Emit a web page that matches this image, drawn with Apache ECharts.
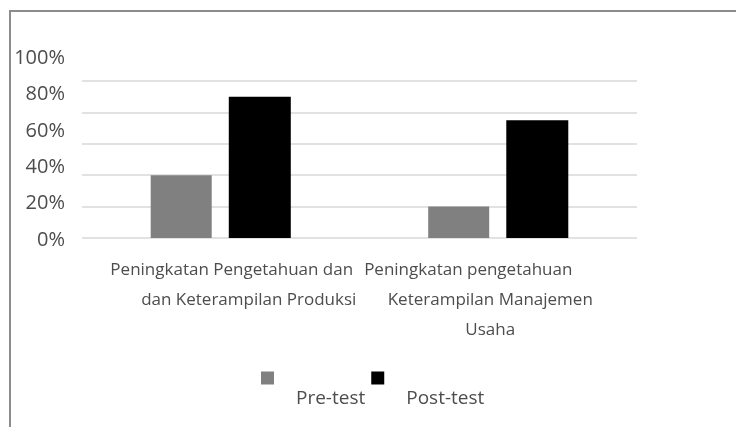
<!DOCTYPE html>
<html>
<head>
<meta charset="utf-8">
<script src="https://cdn.jsdelivr.net/npm/echarts@6/dist/echarts.min.js"></script>
<style>
  html, body { margin: 0; padding: 0; background: #fff; }
  #frame {
    position: absolute; left: 9px; top: 10px; width: 727px; height: 417px;
    border-left: 2px solid #8c8c8c; border-top: 2px solid #8c8c8c;
    box-sizing: border-box;
  }
  #chart { position: absolute; left: 0; top: 0; width: 736px; height: 427px; }
</style>
</head>
<body>
<div id="frame"></div>
<div id="chart"></div>
<script>
// data
const categories = [
  "Peningkatan Pengetahuan dan\ndan Keterampilan Produksi",
  "Peningkatan pengetahuan\nKeterampilan Manajemen\nUsaha"
];
const preTest = [0.40, 0.20];
const postTest = [0.90, 0.75];

const labelColor = "#4d4d4d";
const fontFam = "'Open Sans', sans-serif";

// horizontal nudge of each wrapped label line (px, + = right)
const lineShift = [[11, 28], [-30, -8, -8]];

const rich = {};
lineShift.forEach((shifts, i) => {
  shifts.forEach((s, j) => {
    rich["c" + i + "_" + j] = {
      color: labelColor,
      fontSize: 17,
      lineHeight: 30,
      fontFamily: fontFam,
      padding: s > 0 ? [0, 0, 0, 2 * s] : [0, -2 * s, 0, 0]
    };
  });
});

const chart = echarts.init(document.getElementById("chart"));

chart.setOption({
  animation: false,
  color: ["#808080", "#000000"],
  textStyle: { fontFamily: fontFam },
  grid: [
    // plot area
    { left: 82, right: 99, top: 81, bottom: 189 },
    // label column (labels in the picture are spread wider than the gridlines)
    { left: 81, right: 100, top: 58, bottom: 187 }
  ],
  legend: {
    left: 256,
    top: 331,
    itemWidth: 13,
    itemHeight: 13,
    itemGap: 6,
    icon: "rect",
    formatter: function (name) { return "\n" + name; },
    textStyle: {
      color: labelColor,
      fontSize: 19,
      fontFamily: fontFam,
      lineHeight: 42,
      padding: [0, 0, 0, 17]
    },
    data: ["Pre-test", "Post-test"]
  },
  xAxis: [
    {
      gridIndex: 0,
      type: "category",
      data: categories,
      axisLine: { show: false },
      axisTick: { show: false },
      axisLabel: {
        color: labelColor,
        fontSize: 17,
        lineHeight: 30,
        margin: 17,
        align: "center",
        interval: 0,
        formatter: function (value, idx) {
          return value.split("\n").map((line, j) => "{c" + idx + "_" + j + "|" + line + "}").join("\n");
        },
        rich: rich
      }
    },
    { gridIndex: 1, type: "value", show: false, min: 0, max: 1 }
  ],
  yAxis: [
    {
      gridIndex: 0,
      type: "value",
      min: 0,
      max: 1,
      interval: 0.2,
      axisLabel: { show: false },
      axisLine: { show: false },
      axisTick: { show: false },
      splitLine: { lineStyle: { color: "#d9d9d9", width: 1.5 } }
    },
    {
      gridIndex: 1,
      type: "value",
      min: 0,
      max: 1,
      interval: 0.2,
      axisLine: { show: false },
      axisTick: { show: false },
      splitLine: { show: false },
      axisLabel: {
        color: labelColor,
        fontSize: 20,
        margin: 16,
        formatter: function (v) { return Math.round(v * 100) + "%"; }
      }
    }
  ],
  series: [
    {
      name: "Pre-test",
      type: "bar",
      xAxisIndex: 0,
      yAxisIndex: 0,
      data: preTest,
      barWidth: 61,
      barGap: "28%"
    },
    {
      name: "Post-test",
      type: "bar",
      xAxisIndex: 0,
      yAxisIndex: 0,
      data: postTest,
      barWidth: 62
    }
  ]
});
</script>
</body>
</html>
